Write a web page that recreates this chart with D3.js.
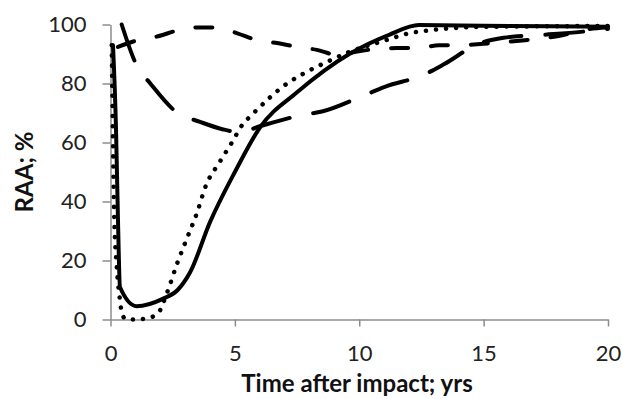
<!DOCTYPE html>
<html>
<head>
<meta charset="utf-8">
<script src="https://cdn.jsdelivr.net/npm/d3@7"></script>
<style>
  body { margin: 0; background: #fff; }
  svg text { font-family: Lato, "Open Sans", sans-serif; }
  .axis path, .axis line { stroke: #8c8c8c; stroke-width: 1.5px; }
  .axis text { fill: #222; }
</style>
</head>
<body>
<div id="chart"></div>
<script>
// series (time in yrs, RAA in %)
var timeSolid = [0.1, 0.22, 0.3, 0.38, 1.05, 2.1, 2.7, 3.2, 4.0, 5.0, 6.0, 7.5, 9.6, 11.2, 12.4, 15, 20];
var raaSolid  = [93, 65, 34, 11, 4.5, 7, 10, 16, 33, 50, 65, 77, 90, 96.5, 99.8, 99.6, 99.2];

var timeDotted = [0.05, 0.1, 0.15, 0.25, 0.38, 0.45, 0.6, 1.0, 1.5, 1.9, 2.27, 2.7, 3.0, 3.47, 3.84, 4.36, 4.88, 5.3, 5.7, 7.1, 7.9, 8.7, 9.6, 11, 12, 12.8, 13.8, 15, 20];
var raaDotted  = [93, 60, 35, 18, 6.6, 2.5, 0.2, 0, 0.5, 2, 9, 19.5, 26, 36, 45.5, 53, 60, 66, 69.5, 80, 84, 87.3, 90.7, 94.5, 97, 98, 98.8, 99.2, 99.5];

var timeLongDash = [0.45, 1.06, 1.6, 2.7, 3.6, 4.5, 5.2, 6.0, 7.7, 8.5, 10.2, 11, 12.6, 13.4, 14.8, 15.8, 17.4, 18.9, 20];
var raaLongDash  = [100, 86, 80, 70, 67, 64.5, 63.5, 65.5, 69.3, 70.5, 76, 78.8, 83, 86.5, 93.5, 95.5, 96.5, 97.5, 98.5];

var timeDash = [0.3, 1.1, 1.9, 2.7, 3.5, 4.3, 5.1, 5.9, 6.7, 7.5, 8.3, 9.2, 9.7, 11.5, 12.4, 13.2, 14, 15, 17, 18.2, 18.9, 20];
var raaDash  = [92.4, 94.7, 96, 98, 99, 99, 97, 94.7, 93.7, 92.4, 91.4, 89.5, 90.5, 92, 92, 93, 93, 93.5, 95, 96.4, 98, 99];

var xTicks = [0, 5, 10, 15, 20];
var yTicks = [0, 20, 40, 60, 80, 100];

var W = 622, H = 399;
var margin = { top: 24.5, right: 14, bottom: 79.5, left: 110.5 };
var width = W - margin.left - margin.right,
    height = H - margin.top - margin.bottom;

var svg = d3.select("#chart").append("svg")
  .attr("width", W)
  .attr("height", H);

var g = svg.append("g")
  .attr("transform", "translate(" + margin.left + "," + margin.top + ")");

var x = d3.scaleLinear().domain([0, 20]).range([0, width]);
var y = d3.scaleLinear().domain([0, 100]).range([height, 0]);

g.append("g")
  .attr("class", "axis")
  .attr("transform", "translate(0," + height + ")")
  .call(d3.axisBottom(x).tickValues(xTicks).tickSizeInner(7).tickSizeOuter(0).tickPadding(19))
  .selectAll("text").attr("font-size", 22);

g.append("g")
  .attr("class", "axis")
  .call(d3.axisLeft(y).tickValues(yTicks).tickSizeInner(8).tickSizeOuter(0).tickPadding(16))
  .selectAll("text").attr("font-size", 22);

var line = d3.line()
  .x(function(d) { return x(d[0]); })
  .y(function(d) { return y(d[1]); })
  .curve(d3.curveMonotoneX);

function pairs(xs, ys) {
  return xs.map(function(v, i) { return [v, ys[i]]; });
}

var series = [
  { data: pairs(timeDash, raaDash), dash: "17 23" },
  { data: pairs(timeLongDash, raaLongDash), dash: "38 24" },
  { data: pairs(timeDotted, raaDotted), dash: "0.1 10" },
  { data: pairs(timeSolid, raaSolid), dash: null }
];

series.forEach(function(s) {
  g.append("path")
    .datum(s.data)
    .attr("fill", "none")
    .attr("stroke", "#000")
    .attr("stroke-width", s.dash === "0.1 10" ? 4.5 : 4)
    .attr("stroke-linecap", "round")
    .attr("stroke-linejoin", "round")
    .attr("stroke-dasharray", s.dash)
    .attr("d", line);
});

svg.append("text")
  .attr("x", 357)
  .attr("y", 392)
  .attr("text-anchor", "middle")
  .attr("font-size", 24)
  .attr("font-weight", "bold")
  .attr("fill", "#111")
  .text("Time after impact; yrs");

svg.append("text")
  .attr("transform", "translate(33,172) rotate(-90)")
  .attr("text-anchor", "middle")
  .attr("font-size", 24)
  .attr("font-weight", "bold")
  .attr("fill", "#111")
  .text("RAA; %");
</script>
</body>
</html>
